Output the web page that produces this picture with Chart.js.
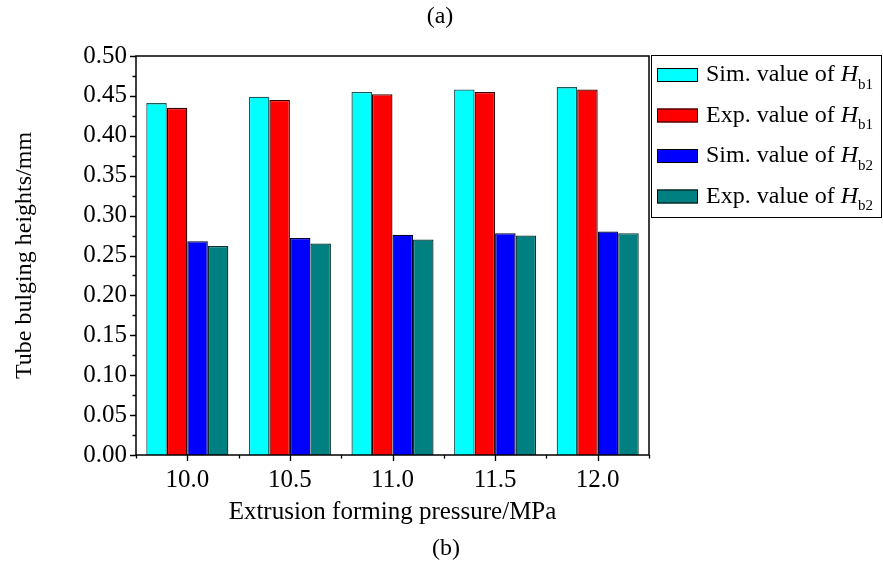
<!DOCTYPE html>
<html>
<head>
<meta charset="utf-8">
<script src="https://cdn.jsdelivr.net/npm/chart.js@4.4.0/dist/chart.umd.min.js"></script>
<style>
  html, body { margin: 0; padding: 0; background: #fff; }
</style>
</head>
<body>
<canvas id="bulgeChart" width="883" height="563"></canvas>
<script>
const pressures = ["10.0", "10.5", "11.0", "11.5", "12.0"];
const simHb1 = [0.441, 0.449, 0.455, 0.458, 0.461];
const expHb1 = [0.435, 0.445, 0.452, 0.455, 0.458];
const simHb2 = [0.268, 0.272, 0.276, 0.278, 0.280];
const expHb2 = [0.262, 0.265, 0.270, 0.275, 0.278];
const seriesLabels = ["Sim. value of ", "Exp. value of ", "Sim. value of ", "Exp. value of "];
const seriesSubs = ["b1", "b1", "b2", "b2"];
const yMin = 0, yMax = 0.5, yStep = 0.05;

const FONT = "'Liberation Serif', 'Times New Roman', serif";
const fills = ["#00ffff", "#ff0000", "#0000ff", "#008080"];
const edges = ["#1f5a5a", "#300000", "#000030", "#0c3030"];

// frame, tick marks (major + minor), legend box and panel captions
const decorations = {
  id: "decorations",
  afterDraw(chart) {
    const { ctx, chartArea: a, scales } = chart;
    const x = scales.x, y = scales.y;
    ctx.save();
    ctx.strokeStyle = "#000";
    ctx.lineWidth = 1.5;
    ctx.strokeRect(a.left, a.top, a.right - a.left, a.bottom - a.top);

    ctx.lineWidth = 1.3;
    ctx.beginPath();
    for (let v = yMin, i = 0; v <= yMax + 1e-9; v += yStep / 2, i++) {
      const py = Math.round(y.getPixelForValue(v)) + 0.5;
      const len = i % 2 === 0 ? 6 : 3.5;
      ctx.moveTo(a.left, py);
      ctx.lineTo(a.left - len, py);
    }
    for (let i = -0.5; i <= pressures.length - 0.5; i += 0.5) {
      const px = Math.round(x.getPixelForValue(i)) + 0.5;
      const len = Number.isInteger(i) ? 6 : 3.5;
      ctx.moveTo(px, a.bottom);
      ctx.lineTo(px, a.bottom + len);
    }
    ctx.stroke();

    // legend
    const lx = 651, ly = 55, lw = 231, lh = 162;
    ctx.lineWidth = 1;
    ctx.strokeRect(lx + 0.5, ly + 0.5, lw - 1, lh);
    chart.data.datasets.forEach((ds, i) => {
      const cy = ly + 20 + i * 40.5;
      ctx.fillStyle = ds.backgroundColor;
      ctx.fillRect(657, cy - 7, 41, 14);
      ctx.strokeStyle = "#000";
      ctx.strokeRect(657.5, cy - 6.5, 40, 13);
      ctx.fillStyle = "#000";
      ctx.textBaseline = "middle";
      ctx.textAlign = "left";
      ctx.font = "24px " + FONT;
      let tx = 706;
      ctx.fillText(seriesLabels[i], tx, cy);
      tx += ctx.measureText(seriesLabels[i]).width;
      ctx.font = "italic 24px " + FONT;
      ctx.fillText("H", tx, cy);
      tx += ctx.measureText("H").width;
      ctx.font = "15px " + FONT;
      ctx.fillText(seriesSubs[i], tx, cy + 10);
    });

    ctx.font = "24px " + FONT;
    ctx.textAlign = "center";
    ctx.textBaseline = "middle";
    ctx.fillText("(a)", 440, 17);
    ctx.fillText("(b)", 446, 549);
    ctx.restore();
  }
};

new Chart(document.getElementById("bulgeChart"), {
  type: "bar",
  data: {
    labels: pressures,
    datasets: [simHb1, expHb1, simHb2, expHb2].map((data, i) => ({
      label: seriesLabels[i] + "H" + seriesSubs[i],
      data,
      backgroundColor: fills[i],
      borderColor: edges[i],
      borderWidth: 1.3,
      categoryPercentage: 0.8,
      barPercentage: 1.0
    }))
  },
  options: {
    responsive: false,
    animation: false,
    layout: { padding: { left: 0, top: 56, right: 234, bottom: 0 } },
    plugins: {
      legend: { display: false },
      tooltip: { enabled: false }
    },
    scales: {
      x: {
        grid: { display: false, drawTicks: false },
        border: { display: false },
        ticks: { color: "#000", font: { family: FONT, size: 25 }, padding: 10 },
        title: {
          display: true,
          text: "Extrusion forming pressure/MPa",
          color: "#000",
          font: { family: FONT, size: 25 },
          padding: { top: 0, bottom: 36 }
        },
        afterFit(s) { s.height = 108; }
      },
      y: {
        min: yMin,
        max: yMax,
        grid: { display: false, drawTicks: false },
        border: { display: false },
        ticks: {
          stepSize: yStep,
          color: "#000",
          font: { family: FONT, size: 25 },
          padding: 9,
          callback: v => v.toFixed(2)
        },
        title: {
          display: true,
          text: "Tube bulging heights/mm",
          color: "#000",
          font: { family: FONT, size: 24 },
          padding: { top: 10, bottom: 0 }
        },
        afterFit(s) { s.width = 136; }
      }
    }
  },
  plugins: [decorations]
});
</script>
</body>
</html>
